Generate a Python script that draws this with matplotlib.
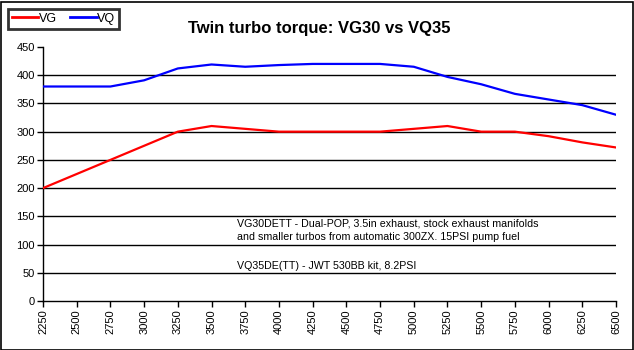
import matplotlib
matplotlib.use("Agg")
import matplotlib.pyplot as plt
from matplotlib.patches import Rectangle

plt.rcParams['font.family'] = ['Liberation Sans', 'DejaVu Sans']

rpm = [2250, 2500, 2750, 3000, 3250, 3500, 3750, 4000, 4250, 4500,
       4750, 5000, 5250, 5500, 5750, 6000, 6250, 6500]
vg = [200, 225, 250, 275, 300, 310, 305, 300, 300, 300,
      300, 305, 310, 300, 300, 292, 281, 272]
vq = [380, 380, 380, 391, 412, 419, 415, 418, 420, 420,
      420, 415, 397, 384, 367, 357, 347, 330]
yticks = [0, 50, 100, 150, 200, 250, 300, 350, 400, 450]
title = "Twin turbo torque: VG30 vs VQ35"
notes = ["VG30DETT - Dual-POP, 3.5in exhaust, stock exhaust manifolds",
         "and smaller turbos from automatic 300ZX. 15PSI pump fuel",
         "VQ35DE(TT) - JWT 530BB kit, 8.2PSI"]

W, H = 634, 350
fig = plt.figure(figsize=(W / 100, H / 100), dpi=100)
L, R, T, B = 43, 616, 47, 301
ax = fig.add_axes([L / W, 1 - B / H, (R - L) / W, (B - T) / H])

for y in yticks[1:-1]:
    ax.axhline(y, color='black', lw=1.0, zorder=1)

ax.plot(rpm, vg, color='#ff0000', lw=1.6, label='VG', zorder=3)
ax.plot(rpm, vq, color='#0000ff', lw=1.6, label='VQ', zorder=3)

ax.set_xlim(rpm[0], rpm[-1])
ax.set_ylim(0, 450)
ax.set_xticks(rpm)
ax.set_xticklabels([str(r) for r in rpm], rotation=90, fontsize=8)
ax.set_yticks(yticks)
ax.set_yticklabels([str(y) for y in yticks], fontsize=8)
ax.tick_params(direction='out', length=4, width=1, color='black', pad=2)
for s in ['top', 'right']:
    ax.spines[s].set_visible(False)
for s in ['left', 'bottom']:
    ax.spines[s].set_linewidth(1.0)

ax.text(3690, 138, notes[0], fontsize=7.65, va='center', ha='left')
ax.text(3690, 113, notes[1], fontsize=7.65, va='center', ha='left')
ax.text(3690, 62, notes[2], fontsize=7.65, va='center', ha='left')

fig.text(319 / W, 1 - 28 / H, title, fontsize=12, fontweight='bold',
         ha='center', va='center')

leg = fig.legend(loc='upper left', bbox_to_anchor=(8 / W, 1 - 9 / H), ncol=2,
                 fontsize=9, frameon=True, fancybox=False, handlelength=2.1,
                 handletextpad=0.05, columnspacing=1.1, borderpad=0.3,
                 borderaxespad=0)
leg.get_frame().set_edgecolor('black')
leg.get_frame().set_linewidth(2)
for line in leg.get_lines():
    line.set_linewidth(2)

fig.patches.append(Rectangle((0.5 / W, 0.5 / H), 1 - 2 / W, 1 - 2 / H,
                             transform=fig.transFigure, fill=False,
                             edgecolor='black', lw=1.2))

fig.savefig('out.png', dpi=100)
